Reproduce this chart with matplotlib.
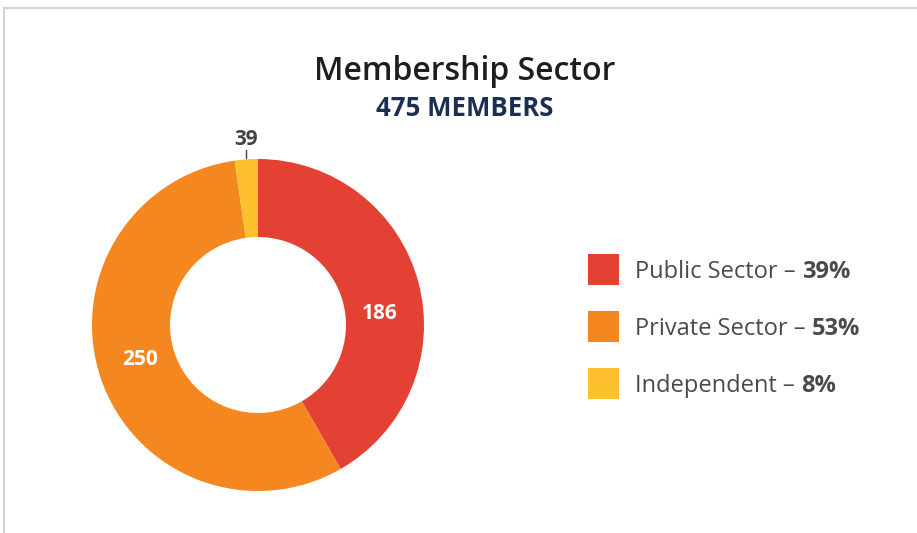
import matplotlib

matplotlib.use("Agg")
import matplotlib.pyplot as plt
from matplotlib.lines import Line2D
from matplotlib.patches import Rectangle

plt.rcParams["font.family"] = ["Open Sans", "DejaVu Sans"]

# data
sectors = ["Public Sector", "Private Sector", "Independent"]
members = [186, 250, 39]
shares = ["39%", "53%", "8%"]
# slice sizes as drawn in the source chart (the Independent slice is drawn much thinner than 39)
slice_sizes = [186, 250, 10]
colors = ["#e34133", "#f58720", "#fec12e"]

W, H = 917, 533
fig = plt.figure(figsize=(W / 100, H / 100), dpi=100)


def fx(px):
    return px / W


def fy(py):
    return 1 - py / H


# frame
fig.add_artist(Line2D([fx(4), 1], [fy(8), fy(8)], color="#d4d4d4", lw=1.5))
fig.add_artist(Line2D([fx(4), fx(4)], [fy(8), 0], color="#d4d4d4", lw=1.5))

# donut
cx, cy, r = 258, 325, 166
ax = fig.add_axes([fx(cx - r), fy(cy + r), (2 * r) / W, (2 * r) / H])
ax.pie(
    slice_sizes,
    colors=colors,
    startangle=90,
    counterclock=False,
    radius=1,
    wedgeprops={"width": 0.47, "linewidth": 0},
)
ax.set_xlim(-1, 1)
ax.set_ylim(-1, 1)
ax.set_aspect("equal")
ax.axis("off")

label_pos = [(0.735, 0.07), (-0.71, -0.21), (-0.072, 1.12)]
label_col = ["white", "white", "#444444"]
for val, (lx, ly), c in zip(members, label_pos, label_col):
    ax.text(lx, ly, str(val), color=c, fontsize=15, fontweight="bold",
            ha="center", va="center", clip_on=False)
ax.plot([-0.072, -0.072], [1.005, 1.052], color="#444444", lw=1, clip_on=False)

# titles
fig.text(fx(465), fy(71), "Membership Sector", fontsize=23, color="#1e1e1e",
         fontweight="semibold", ha="center", va="center")
fig.text(fx(465), fy(109), "475 MEMBERS", fontsize=18.5, color="#1b2f52",
         fontweight="bold", ha="center", va="center")

# legend
fig.canvas.draw()
renderer = fig.canvas.get_renderer()
rows_y = [278, 335, 392]
for name, share, c, ry in zip(sectors, shares, colors, rows_y):
    fig.add_artist(Rectangle((fx(588), fy(ry + 7)), 31 / W, 31 / H,
                             transform=fig.transFigure, color=c, lw=0))
    t = fig.text(fx(635), fy(ry), f"{name} \u2013 ", fontsize=17,
                 color="#4a4a4a", ha="left", va="baseline")
    bb = t.get_window_extent(renderer)
    fig.text(bb.x1 / W, fy(ry), share, fontsize=17, color="#4a4a4a",
             fontweight="bold", ha="left", va="baseline")

fig.savefig("out.png", dpi=100)
plt.close(fig)
